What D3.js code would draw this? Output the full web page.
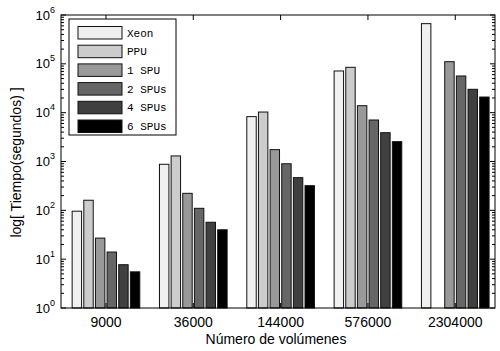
<!DOCTYPE html>
<html>
<head>
<meta charset="utf-8">
<script src="https://cdn.jsdelivr.net/npm/d3@7"></script>
<style>
  body { margin: 0; background: #fff; }
  text { font-family: "Liberation Sans", Arial, sans-serif; fill: #000; }
</style>
</head>
<body>
<svg width="500" height="351"></svg>
<script>
const groups = ["9000", "36000", "144000", "576000", "2304000"];
const seriesNames = ["Xeon", "PPU", "1 SPU", "2 SPUs", "4 SPUs", "6 SPUs"];
const seriesColors = ["#f0f0f0", "#cccccc", "#999999", "#666666", "#404040", "#000000"];

const xeon  = [96, 877, 8300, 71400, 665000];
const ppu   = [161, 1300, 10300, 84900, null];
const spu1  = [27, 223, 1750, 13900, 110700];
const spu2  = [14, 110, 900, 7080, 56400];
const spu4  = [7.7, 57, 467, 3890, 30100];
const spu6  = [5.5, 40, 320, 2550, 20900];

const yDecades = [1, 10, 100, 1000, 10000, 100000, 1000000];
const yExponents = ["0", "1", "2", "3", "4", "5", "6"];

window.onload = () => {
  const svg = d3.select("svg");
  const plot = { left: 61, right: 495, top: 15, bottom: 308 };

  const values = [xeon, ppu, spu1, spu2, spu4, spu6];

  const x = d3.scaleLinear()
    .domain([0.485, 5.455])
    .range([plot.left, plot.right]);

  const y = d3.scaleLog()
    .domain([1, 1e6])
    .range([plot.bottom, plot.top]);

  const step = 0.8 / 6;
  const barW = 0.108;

  const rows = [];
  values.forEach((s, i) => {
    s.forEach((v, g) => {
      if (v == null) return;
      rows.push({ i, g, v });
    });
  });

  svg.append("g")
      .attr("class", "bars")
    .selectAll("rect")
    .data(rows)
    .join("rect")
      .attr("x", d => x(d.g + 1 + (d.i - 2.5) * step - barW / 2))
      .attr("width", d => x(barW) - x(0))
      .attr("y", d => y(d.v))
      .attr("height", d => y(1) - y(d.v))
      .attr("fill", d => seriesColors[d.i])
      .attr("stroke", "#111")
      .attr("stroke-width", 1);

  // frame
  svg.append("rect")
    .attr("x", plot.left)
    .attr("y", plot.top)
    .attr("width", plot.right - plot.left)
    .attr("height", plot.bottom - plot.top)
    .attr("fill", "none")
    .attr("stroke", "#000")
    .attr("stroke-width", 1);

  // y ticks, major + minor, inward on both sides
  const minor = [];
  yDecades.slice(0, -1).forEach(d => {
    for (let k = 2; k <= 9; k++) minor.push(d * k);
  });

  const ticks = svg.append("g").attr("class", "ticks")
    .attr("stroke", "#000").attr("stroke-width", 1);

  [[plot.left, 1], [plot.right, -1]].forEach(([x0, dir]) => {
    ticks.selectAll(null)
      .data(yDecades)
      .join("line")
        .attr("x1", x0).attr("x2", x0 + dir * 5)
        .attr("y1", d => y(d)).attr("y2", d => y(d));
    ticks.selectAll(null)
      .data(minor)
      .join("line")
        .attr("x1", x0).attr("x2", x0 + dir * 3)
        .attr("y1", d => y(d)).attr("y2", d => y(d));
  });

  // x ticks, top and bottom, inward
  [[plot.bottom, -1], [plot.top, 1]].forEach(([y0, dir]) => {
    ticks.selectAll(null)
      .data(groups)
      .join("line")
        .attr("x1", (_, g) => x(g + 1)).attr("x2", (_, g) => x(g + 1))
        .attr("y1", y0).attr("y2", y0 + dir * 5);
  });

  // y tick labels 10^n
  const yl = svg.append("g").attr("class", "ylabels");
  const lbl = yl.selectAll("text")
    .data(yDecades)
    .join("text")
      .attr("x", 55)
      .attr("y", d => y(d) + 4.5)
      .attr("text-anchor", "end")
      .attr("font-size", 13);
  lbl.append("tspan").text("10");
  lbl.append("tspan")
      .attr("font-size", 9)
      .attr("dy", -7)
      .text((_, i) => yExponents[i]);

  // x tick labels
  svg.append("g").selectAll("text")
    .data(groups)
    .join("text")
      .attr("x", (_, g) => x(g + 1))
      .attr("y", 327)
      .attr("text-anchor", "middle")
      .attr("font-size", 14)
      .text(d => d);

  svg.append("text")
    .attr("x", 276)
    .attr("y", 344)
    .attr("text-anchor", "middle")
    .attr("font-size", 14)
    .text("Número de volúmenes");

  svg.append("text")
    .attr("transform", `translate(21, ${(plot.top + plot.bottom) / 2 + 1}) rotate(-90)`)
    .attr("text-anchor", "middle")
    .attr("font-size", 14)
    .text("log[ Tiempo(segundos) ]");

  // legend
  const legend = svg.append("g").attr("class", "legend");
  legend.append("rect")
    .attr("x", 69).attr("y", 19)
    .attr("width", 107).attr("height", 116)
    .attr("fill", "#fff")
    .attr("stroke", "#000");

  const item = legend.selectAll("g")
    .data(seriesNames)
    .join("g")
      .attr("transform", (_, i) => `translate(78, ${26.5 + i * 18.7})`);

  item.append("rect")
    .attr("width", 44).attr("height", 12.5)
    .attr("fill", (_, i) => seriesColors[i])
    .attr("stroke", "#111");

  item.append("text")
    .attr("x", 49)
    .attr("y", 10)
    .style("font-family", "'Liberation Mono', 'DejaVu Sans Mono', monospace")
    .style("font-size", "11px")
    .text(d => d);
};
</script>
</body>
</html>
